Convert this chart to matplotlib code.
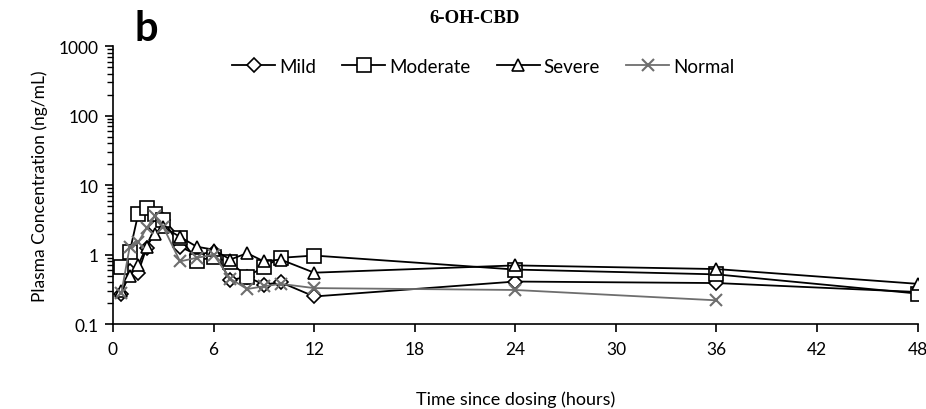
import matplotlib
matplotlib.use("Agg")
import matplotlib.pyplot as plt
from matplotlib.ticker import FixedLocator, LogLocator, NullFormatter

# Sampling times (hours)
times = [0.5, 1, 1.5, 2, 2.5, 3, 4, 5, 6, 7, 8, 9, 10, 12, 24, 36, 48]
times_normal = [0.5, 1, 1.5, 2, 2.5, 3, 4, 5, 6, 7, 8, 9, 10, 12, 24, 36]

# Mean plasma concentrations (ng/mL) by hepatic function group
mild = [0.27, 0.58, 0.55, 1.25, 2.5, 3.2, 1.3, 1.0, 1.1, 0.43, 0.48, 0.37, 0.40, 0.25, 0.41, 0.39, 0.29]
moderate = [0.67, 1.1, 3.8, 4.7, 3.8, 3.2, 1.75, 0.82, 0.92, 0.78, 0.48, 0.67, 0.90, 0.97, 0.61, 0.52, 0.275]
severe = [0.30, 0.50, 0.70, 1.3, 2.0, 2.5, 1.8, 1.3, 1.18, 0.85, 1.05, 0.80, 0.85, 0.55, 0.70, 0.62, 0.38]
normal = [0.28, 1.3, 1.5, 2.4, 3.6, 2.5, 0.80, 0.90, 1.0, 0.45, 0.32, 0.35, 0.38, 0.33, 0.31, 0.22]

x_ticks = [0, 6, 12, 18, 24, 30, 36, 42, 48]
y_ticks = [0.1, 1, 10, 100, 1000]
y_tick_labels = ["0.1", "1", "10", "100", "1000"]

sans = ["Lato", "DejaVu Sans"]
plt.rcParams["font.family"] = sans

fig = plt.figure(figsize=(9.26, 4.10), dpi=100)
ax = fig.add_axes([0.122, 0.207, 0.869, 0.678])

common = dict(linewidth=1.3, markersize=9, markeredgewidth=1.2, markerfacecolor="white")
ax.plot(times, mild, color="black", marker="D", label="Mild", **{**common, "markersize": 7})
ax.plot(times, moderate, color="black", marker="s", label="Moderate", **{**common, "markersize": 10})
ax.plot(times, severe, color="black", marker="^", label="Severe", **common)
ax.plot(times_normal, normal, color="#6e6e6e", marker="x", label="Normal",
        linewidth=1.3, markersize=9, markeredgewidth=1.5)

ax.set_yscale("log")
ax.set_ylim(0.1, 1000)
ax.set_xlim(0, 48)
ax.xaxis.set_major_locator(FixedLocator(x_ticks))
ax.set_xticklabels([str(t) for t in x_ticks], fontsize=12.5)
ax.yaxis.set_major_locator(FixedLocator(y_ticks))
ax.set_yticklabels(y_tick_labels, fontsize=12.5)
ax.yaxis.set_minor_locator(LogLocator(base=10, subs=range(2, 10)))
ax.yaxis.set_minor_formatter(NullFormatter())

for side in ("top", "right"):
    ax.spines[side].set_visible(False)
for side in ("left", "bottom"):
    ax.spines[side].set_linewidth(1.2)
ax.tick_params(axis="x", which="major", direction="out", length=6, width=1.2, pad=6)
ax.tick_params(axis="y", which="major", direction="out", length=6, width=1.2, pad=4)
ax.tick_params(axis="y", which="minor", direction="out", length=4, width=1.0)

ax.set_xlabel("Time since dosing (hours)", fontsize=13, labelpad=24)
ax.set_ylabel("Plasma Concentration (ng/mL)", fontsize=12.5, labelpad=8)

ax.legend(loc="upper center", bbox_to_anchor=(0.46, 1.005), ncol=4, frameon=False,
          fontsize=13.5, handlelength=2.3, columnspacing=1.4, handletextpad=0.2,
          borderaxespad=0.3)

fig.text(0.513, 0.955, "6-OH-CBD", fontsize=13.5, fontweight="bold",
         family=["Liberation Serif", "DejaVu Serif"], ha="center", va="center")
fig.text(0.145, 0.93, "b", fontsize=30, fontweight="bold", ha="left", va="center")

fig.savefig("out.png", dpi=100)
